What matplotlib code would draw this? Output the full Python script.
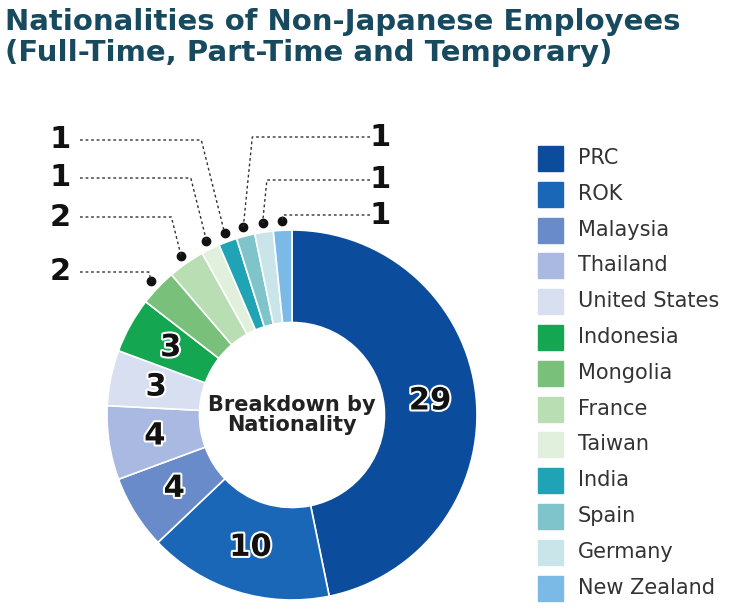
import numpy as np
import matplotlib.pyplot as plt
import matplotlib.patheffects as pe

countries = ['PRC', 'ROK', 'Malaysia', 'Thailand', 'United States', 'Indonesia',
             'Mongolia', 'France', 'Taiwan', 'India', 'Spain', 'Germany', 'New Zealand']
counts = [29, 10, 4, 4, 3, 3, 2, 2, 1, 1, 1, 1, 1]
colors = ['#0b4c9c', '#1a67b7', '#6a8bc9', '#a9b9e1', '#d8dff1', '#14a651',
          '#79c07a', '#badeb4', '#e0f0dc', '#20a3b4', '#7ec4ca', '#c9e5e9', '#7bb9e7']

W, H = 730, 610
CX, CY, R = 292, 415, 185
fig = plt.figure(figsize=(W / 100, H / 100), dpi=100)
ax = fig.add_axes([(CX - R) / W, (H - CY - R) / H, 2 * R / W, 2 * R / H])
ov = fig.add_axes([0, 0, 1, 1], zorder=5)
ov.set_xlim(0, W); ov.set_ylim(H, 0); ov.axis('off'); ov.patch.set_alpha(0)

wedges, _ = ax.pie(counts, colors=colors, startangle=90, counterclock=False,
                   radius=1, wedgeprops=dict(width=0.5, edgecolor='white', linewidth=1.2))
ax.set_xlim(-1, 1); ax.set_ylim(-1, 1); ax.set_aspect('equal'); ax.axis('off')

ax.text(0, 0, 'Breakdown by\nNationality', ha='center', va='center',
        fontsize=15, fontweight='bold', color='#222', linespacing=1.0)

outline = [pe.withStroke(linewidth=3, foreground='white')]
total = sum(counts)
# label positions (pixels) for small slices drawn outside
outside = {6: ('L', 60, 272), 7: ('L', 60, 217), 8: ('L', 60, 178), 9: ('L', 60, 140),
           10: ('R', 380, 137), 11: ('R', 380, 180), 12: ('R', 380, 215)}
for i, w in enumerate(wedges):
    mid = np.deg2rad((w.theta1 + w.theta2) / 2)
    if i not in outside:
        ax.text(0.75 * np.cos(mid), 0.75 * np.sin(mid), str(counts[i]), ha='center',
                va='center', fontsize=22, fontweight='bold', color='#111',
                path_effects=outline)
    else:
        side, lx, ly = outside[i]
        dx = CX + R * 1.05 * np.cos(mid)
        dy = CY - R * 1.05 * np.sin(mid)
        ov.plot(dx, dy, 'o', color='#111', markersize=6)
        if side == 'L':
            bx = dx - 0.25 * (dy - ly)
            ov.plot([lx + 20, bx, dx], [ly, ly, dy], ls=(0, (2, 2)), color='#333', lw=1)
        else:
            bx = dx + 0.1 * (dy - ly)
            ov.plot([lx - 10, bx, dx], [ly, ly, dy], ls=(0, (2, 2)), color='#333', lw=1)
        ov.text(lx, ly, str(counts[i]), ha='center', va='center', fontsize=22,
                fontweight='bold', color='#111')

ov.text(5, 8, 'Nationalities of Non-Japanese Employees\n(Full-Time, Part-Time and Temporary)',
        ha='left', va='top', fontsize=21, fontweight='bold', color='#17495f', linespacing=1.15)

for i, name in enumerate(countries):
    y = 158 + i * 35.8
    ov.add_patch(plt.Rectangle((538, y - 12), 25, 25, color=colors[i]))
    ov.text(578, y, name, ha='left', va='center', fontsize=15, color='#333')

fig.savefig('out.png', dpi=100)
